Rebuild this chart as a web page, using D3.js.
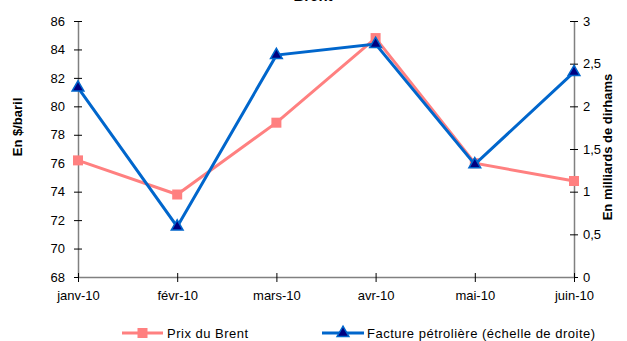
<!DOCTYPE html>
<html><head><meta charset="utf-8">
<script src="https://cdn.jsdelivr.net/npm/d3@7"></script>
<style>body{margin:0;background:#fff}svg{font-family:"Liberation Sans",Arial,sans-serif}</style>
</head><body><svg id="c" width="627" height="341"></svg>
<script>
const months = ["janv-10","févr-10","mars-10","avr-10","mai-10","juin-10"];
const brent = [76.2, 73.8, 78.85, 84.8, 76.0, 74.75];
const facture = [2.22, 0.59, 2.6, 2.73, 1.32, 2.4];
const leftTicks = [68,70,72,74,76,78,80,82,84,86];
const rightTicks = [0,0.5,1,1.5,2,2.5,3];
const seriesNames = ["Prix du Brent","Facture pétrolière (échelle de droite)"];

const svg = d3.select("#c");
const L = 78, R = 574, T = 21, B = 277;
const x = d3.scalePoint().domain(months).range([L, R]);
const yL = d3.scaleLinear().domain([68, 86]).range([B, T]);
const yR = d3.scaleLinear().domain([0, 3]).range([B, T]);
const fmt = d => String(d).replace(".", ",");

function styleAxis(g){
  g.selectAll("path").attr("stroke","#808080").attr("stroke-width",1.5);
  g.selectAll("line").attr("stroke","#000");
  g.selectAll("text").attr("font-size",13).attr("fill","#000");
}
svg.append("g").attr("transform",`translate(${L},0)`)
  .call(d3.axisLeft(yL).tickValues(leftTicks).tickSize(7).tickPadding(6).tickSizeOuter(0))
  .call(g=>{g.selectAll(".tick line").attr("x2",-4).attr("x1",4);}).call(styleAxis);
svg.append("g").attr("transform",`translate(${R},0)`)
  .call(d3.axisRight(yR).tickValues(rightTicks).tickFormat(fmt).tickSize(7).tickPadding(6).tickSizeOuter(0))
  .call(g=>{g.selectAll(".tick line").attr("x1",-4).attr("x2",4);g.selectAll("text").attr("x",9);}).call(styleAxis);
svg.append("g").attr("transform",`translate(0,${B})`)
  .call(d3.axisBottom(x).tickSize(5).tickPadding(9).tickSizeOuter(0))
  .call(g=>{g.selectAll(".tick line").attr("y1",-4).attr("y2",5);}).call(styleAxis);

const pink = "#ff8080", blue = "#0066cc";
svg.append("path").datum(brent)
  .attr("d", d3.line().x((d,i)=>x(months[i])).y(d=>yL(d)))
  .attr("fill","none").attr("stroke",pink).attr("stroke-width",3);
svg.selectAll(".sq").data(brent).join("rect")
  .attr("x",(d,i)=>x(months[i])-5).attr("y",d=>yL(d)-5).attr("width",10).attr("height",10).attr("fill",pink);

svg.append("path").datum(facture)
  .attr("d", d3.line().x((d,i)=>x(months[i])).y(d=>yR(d)))
  .attr("fill","none").attr("stroke",blue).attr("stroke-width",3);
const tri = d3.symbol().type(d3.symbolTriangle).size(60);
svg.selectAll(".tr").data(facture).join("path")
  .attr("transform",(d,i)=>`translate(${x(months[i])},${yR(d)})`)
  .attr("d",tri).attr("fill","#000080").attr("stroke",blue).attr("stroke-width",1.5);

// title
svg.append("text").attr("x",313).attr("y",1).attr("text-anchor","middle")
  .attr("font-size",15).attr("font-weight","bold").text("Brent");
// axis titles
svg.append("text").attr("transform","translate(22,127) rotate(-90)").attr("text-anchor","middle")
  .attr("font-size",13).attr("font-weight","bold").text("En $/baril");
svg.append("text").attr("transform","translate(612,147) rotate(-90)").attr("text-anchor","middle")
  .attr("font-size",13).attr("font-weight","bold").text("En milliards de dirhams");

// legend
const lg = svg.append("g");
lg.append("line").attr("x1",122).attr("x2",163).attr("y1",333).attr("y2",333).attr("stroke",pink).attr("stroke-width",3);
lg.append("rect").attr("x",137.5).attr("y",328).attr("width",10).attr("height",10).attr("fill",pink);
lg.append("text").attr("x",167).attr("y",338).attr("font-size",13).attr("letter-spacing",0.5).text(seriesNames[0]);
lg.append("line").attr("x1",322).attr("x2",364).attr("y1",333).attr("y2",333).attr("stroke",blue).attr("stroke-width",3);
lg.append("path").attr("transform","translate(343,333)").attr("d",tri).attr("fill","#000080").attr("stroke",blue).attr("stroke-width",1.5);
lg.append("text").attr("x",367).attr("y",338).attr("font-size",13).attr("letter-spacing",0.5).text(seriesNames[1]);
</script></body></html>
